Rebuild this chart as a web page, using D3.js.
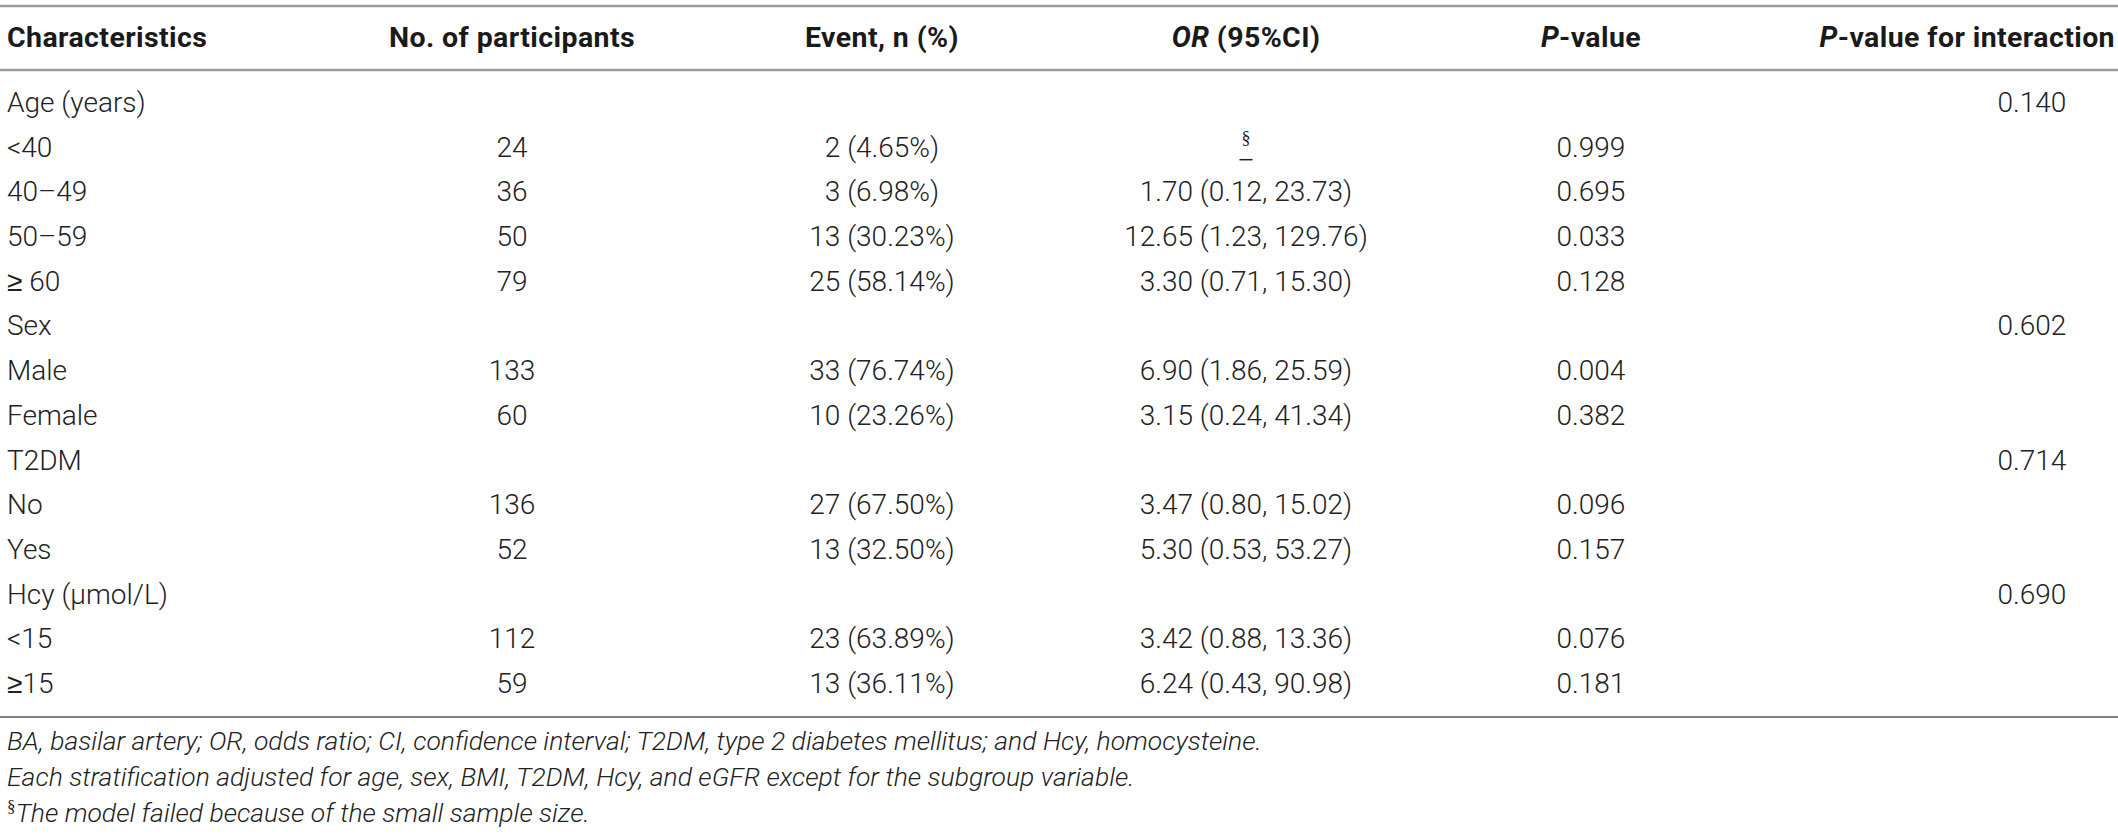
<!DOCTYPE html>
<html lang="en">
<head>
<meta charset="UTF-8">
<title>Subgroup table</title>
<script src="https://d3js.org/d3.v7.min.js"></script>
<style>
  html, body { margin: 0; padding: 0; background: #fff; }
  svg text { font-family: Roboto, "Liberation Sans", sans-serif; }
</style>
</head>
<body>
<svg width="2118" height="837"></svg>
<script>
// table content
const categories = ["Age (years)", "<40", "40–49", "50–59", "\u2265 60", "Sex", "Male", "Female",
                    "T2DM", "No", "Yes", "Hcy (\u03bcmol/L)", "<15", "\u226515"];
const participants = [null, 24, 36, 50, 79, null, 133, 60, null, 136, 52, null, 112, 59];
const eventN   = [null, 2, 3, 13, 25, null, 33, 10, null, 27, 13, null, 23, 13];
const eventPct = [null, 4.65, 6.98, 30.23, 58.14, null, 76.74, 23.26, null, 67.50, 32.50, null, 63.89, 36.11];
const orValue  = [null, null, 1.70, 12.65, 3.30, null, 6.90, 3.15, null, 3.47, 5.30, null, 3.42, 6.24];
const orLower  = [null, null, 0.12, 1.23, 0.71, null, 1.86, 0.24, null, 0.80, 0.53, null, 0.88, 0.43];
const orUpper  = [null, null, 23.73, 129.76, 15.30, null, 25.59, 41.34, null, 15.02, 53.27, null, 13.36, 90.98];
const pValues  = [null, 0.999, 0.695, 0.033, 0.128, null, 0.004, 0.382, null, 0.096, 0.157, null, 0.076, 0.181];
const pInteraction = [0.140, null, null, null, null, 0.602, null, null, 0.714, null, null, 0.690, null, null];
const failedRows = [1];   // model failed -> § mark
const footnotes = [
  "BA, basilar artery; OR, odds ratio; CI, confidence interval; T2DM, type 2 diabetes mellitus; and Hcy, homocysteine.",
  "Each stratification adjusted for age, sex, BMI, T2DM, Hcy, and eGFR except for the subgroup variable.",
  "The model failed because of the small sample size."
];

const W = 2118, H = 837;
const svg = d3.select("svg");
const f2 = d3.format(".2f"), f3 = d3.format(".3f");

const rowY = d3.scaleLinear().domain([0, categories.length - 1]).range([112, 693]);
const colX = d3.scaleOrdinal()
  .domain(["char", "n", "event", "or", "p", "pint"])
  .range([7, 512, 882, 1246, 1591, 2032]);

// rules
svg.append("line").attr("x1", 0).attr("x2", W).attr("y1", 6).attr("y2", 6)
  .attr("stroke", "#9b9b9b").attr("stroke-width", 2.5);
svg.append("line").attr("x1", 0).attr("x2", W).attr("y1", 70).attr("y2", 70)
  .attr("stroke", "#9b9b9b").attr("stroke-width", 2.5);
svg.append("line").attr("x1", 0).attr("x2", W).attr("y1", 717).attr("y2", 717)
  .attr("stroke", "#555").attr("stroke-width", 1.5);

// header
const head = svg.append("g")
  .style("font-family", "'Liberation Sans', Arial, sans-serif")
  .style("font-weight", "bold").style("font-size", "28.5px")
  .style("letter-spacing", "0.4px").attr("fill", "#1a1a1a");
const hy = 47;
head.append("text").attr("x", colX("char")).attr("y", hy).text("Characteristics");
head.append("text").attr("x", colX("n")).attr("y", hy).attr("text-anchor", "middle").text("No. of participants");
head.append("text").attr("x", colX("event")).attr("y", hy).attr("text-anchor", "middle").text("Event, n (%)");
const hOr = head.append("text").attr("x", colX("or")).attr("y", hy).attr("text-anchor", "middle");
hOr.append("tspan").style("font-style", "italic").text("OR");
hOr.append("tspan").text(" (95%CI)");
const hP = head.append("text").attr("x", colX("p")).attr("y", hy).attr("text-anchor", "middle");
hP.append("tspan").style("font-style", "italic").text("P");
hP.append("tspan").text("-value");
const hPi = head.append("text").attr("x", W - 3).attr("y", hy).attr("text-anchor", "end");
hPi.append("tspan").style("font-style", "italic").text("P");
hPi.append("tspan").text("-value for interaction");

// body rows
const body = svg.append("g").style("font-size", "28px").style("font-weight", 300).attr("fill", "#222");
const rows = body.selectAll("g.row").data(categories.map((c, i) => i)).join("g")
  .attr("class", "row")
  .attr("transform", i => `translate(0,${rowY(i)})`);

rows.append("text").attr("x", colX("char")).each(function (i) {
  const t = d3.select(this), c = categories[i];
  if (c.startsWith("\u2265")) {
    t.append("tspan").style("font-family", "'Liberation Sans', sans-serif").text("\u2265");
    t.append("tspan").text(c.slice(1));
  } else {
    t.text(c);
  }
});
rows.filter(i => participants[i] != null).append("text")
  .attr("x", colX("n")).attr("text-anchor", "middle").text(i => participants[i]);
rows.filter(i => eventN[i] != null).append("text")
  .attr("x", colX("event")).attr("text-anchor", "middle")
  .text(i => `${eventN[i]} (${f2(eventPct[i])}%)`);
rows.filter(i => orValue[i] != null).append("text")
  .attr("x", colX("or")).attr("text-anchor", "middle")
  .text(i => `${f2(orValue[i])} (${f2(orLower[i])}, ${f2(orUpper[i])})`);
rows.filter(i => pValues[i] != null).append("text")
  .attr("x", colX("p")).attr("text-anchor", "middle").text(i => f3(pValues[i]));
rows.filter(i => pInteraction[i] != null).append("text")
  .attr("x", colX("pint")).attr("text-anchor", "middle").text(i => f3(pInteraction[i]));

// § marker where the model failed (superscript § over a short dash)
const fail = rows.filter(i => failedRows.includes(i)).append("g");
fail.append("text").attr("x", colX("or")).attr("y", -13).attr("text-anchor", "middle")
  .style("font-family", "'Liberation Serif', 'DejaVu Serif', serif").style("font-weight", 400)
  .style("font-size", "18px").text("\u00a7");
fail.append("line")
  .attr("x1", colX("or") - 6.5).attr("x2", colX("or") + 6.5)
  .attr("y1", 3).attr("y2", 3)
  .attr("stroke", "#222").attr("stroke-width", 1.5);

// footnotes
const foot = svg.append("g").style("font-size", "26.5px").style("font-weight", 300)
  .style("font-style", "italic").attr("fill", "#222");
const footY = d3.scaleLinear().domain([0, footnotes.length - 1]).range([750, 822]);
foot.selectAll("text").data(footnotes).join("text")
  .attr("x", colX("char"))
  .attr("y", (d, i) => footY(i))
  .each(function (d, i) {
    const t = d3.select(this);
    if (i === footnotes.length - 1) {
      t.append("tspan").style("font-family", "'Liberation Serif', serif").style("font-style", "normal")
        .style("font-size", "17px").attr("dy", -10).text("\u00a7");
      t.append("tspan").attr("dy", 10).text(d);
    } else {
      t.text(d);
    }
  });
</script>
</body>
</html>
